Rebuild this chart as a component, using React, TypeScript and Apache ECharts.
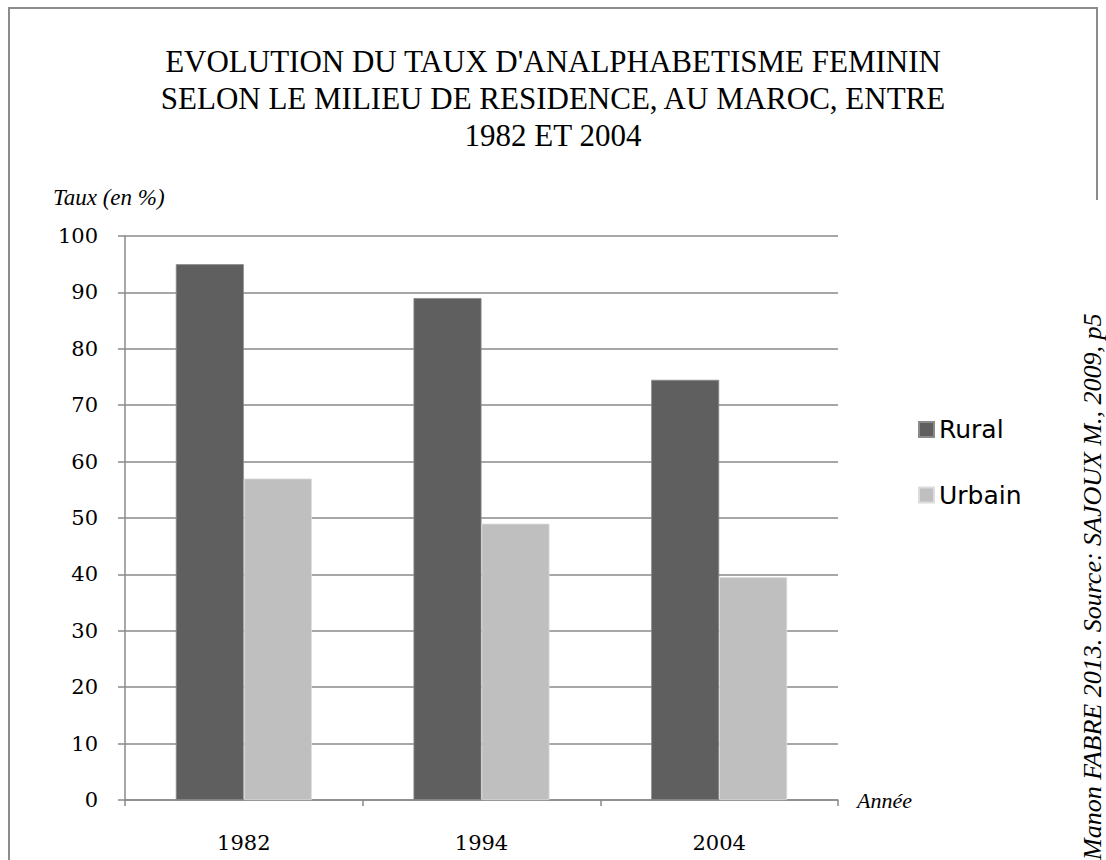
import React, { useEffect, useRef } from "react";
import * as echarts from "echarts";

const titleLines = [
  "EVOLUTION DU TAUX D'ANALPHABETISME FEMININ",
  "SELON LE MILIEU DE RESIDENCE, AU MAROC, ENTRE",
  "1982 ET 2004",
];
const categories = ["1982", "1994", "2004"];
const seriesNames = ["Rural", "Urbain"];
const ruralValues = [95, 89, 74.5];
const urbainValues = [57, 49, 39.5];
const yAxisTitle = "Taux (en %)";
const xAxisTitle = "Année";
const sourceText = "Manon FABRE 2013. Source: SAJOUX M., 2009, p5";

const GRID_COLOR = "#8a8a8a";

export default function App() {
  const ref = useRef<HTMLDivElement>(null);
  useEffect(() => {
    const chart = echarts.init(ref.current as HTMLDivElement, null, { renderer: "svg" });
    chart.setOption({
      animation: false,
      backgroundColor: "#ffffff",
      title: {
        text: titleLines.join("\n"),
        left: "center",
        top: 38,
        textStyle: {
          fontFamily: "Liberation Serif",
          fontSize: 31,
          fontWeight: "normal",
          color: "#000",
          lineHeight: 37,
        },
      },
      legend: {
        data: seriesNames,
        orient: "vertical",
        left: 913,
        top: 409.5,
        itemWidth: 15,
        itemHeight: 15,
        itemGap: 35.5,
        icon: "rect",
        textStyle: { fontFamily: "DejaVu Sans", fontSize: 25, color: "#000", lineHeight: 30 },
      },
      grid: { left: 125, right: 268, top: 236, bottom: 60, containLabel: false },
      xAxis: {
        type: "category",
        data: categories,
        name: xAxisTitle,
        nameLocation: "end",
        nameGap: 19,
        nameTextStyle: {
          fontFamily: "Liberation Serif",
          fontStyle: "italic",
          fontSize: 22,
          color: "#000",
          verticalAlign: "middle",
        },
        axisLine: { show: true, lineStyle: { color: GRID_COLOR, width: 1.5 } },
        axisTick: { show: true, length: 6, lineStyle: { color: GRID_COLOR, width: 1.5 } },
        axisLabel: { fontFamily: "DejaVu Serif", fontSize: 21, color: "#000", margin: 32 },
      },
      yAxis: {
        type: "value",
        min: 0,
        max: 100,
        interval: 10,
        axisLine: { show: true, lineStyle: { color: GRID_COLOR, width: 1.5 } },
        axisTick: { show: true, length: 7, lineStyle: { color: GRID_COLOR, width: 1.5 } },
        splitLine: { show: true, lineStyle: { color: GRID_COLOR, width: 1.5 } },
        axisLabel: { fontFamily: "DejaVu Serif", fontSize: 21, color: "#000", margin: 27 },
      },
      series: [
        {
          name: seriesNames[0],
          type: "bar",
          data: ruralValues,
          barWidth: 68,
          barGap: "0%",
          itemStyle: { color: "#5f5f5f", borderColor: "#8a8a8a", borderWidth: 0.8 },
        },
        {
          name: seriesNames[1],
          type: "bar",
          data: urbainValues,
          barWidth: 68,
          barGap: "0%",
          itemStyle: { color: "#bfbfbf", borderColor: "#dcdcdc", borderWidth: 0.8 },
        },
      ],
      graphic: [
        {
          type: "rect",
          silent: true,
          z: -10,
          shape: { x: 9, y: 8, width: 1088, height: 900 },
          style: { fill: "none", stroke: "#8c8c8c", lineWidth: 2 },
        },
        {
          type: "rect",
          silent: true,
          shape: { x: 1062, y: 200, width: 44, height: 660 },
          style: { fill: "#ffffff" },
        },
        {
          type: "text",
          x: 1092,
          y: 860,
          rotation: Math.PI / 2,
          style: {
            text: sourceText,
            fontFamily: "Liberation Serif",
            fontStyle: "italic",
            fontSize: 26,
            fill: "#000",
            align: "left",
            verticalAlign: "middle",
          },
        },
        {
          type: "text",
          x: 53,
          y: 197,
          style: {
            text: yAxisTitle,
            fontFamily: "Liberation Serif",
            fontStyle: "italic",
            fontSize: 23,
            fill: "#000",
            align: "left",
            verticalAlign: "middle",
          },
        },
      ],
    });
    return () => chart.dispose();
  }, []);
  return (
    <div
      ref={ref}
      style={{ position: "fixed", left: 0, top: 0, width: 1106, height: 860, background: "#fff" }}
    />
  );
}
